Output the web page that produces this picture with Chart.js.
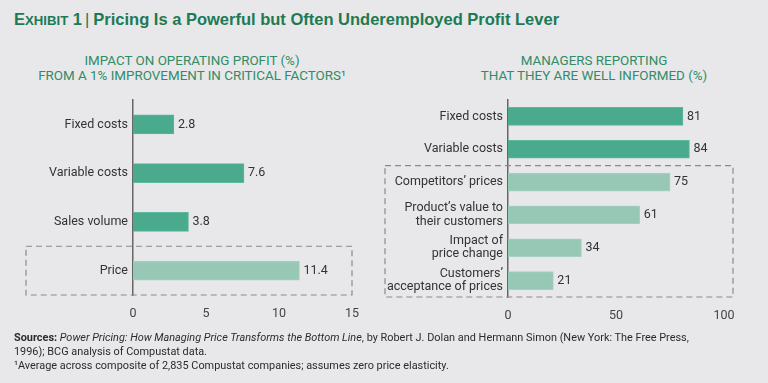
<!DOCTYPE html>
<html>
<head>
<meta charset="utf-8">
<script src="https://cdn.jsdelivr.net/npm/chart.js@4/dist/chart.umd.min.js"></script>
<style>
  body { margin: 0; background: #e8e8ea; }
  #wrap { position: relative; width: 768px; height: 383px; background: #e8e8ea; font-family: Roboto, 'Liberation Sans', sans-serif; overflow: hidden; }
  #title { position: absolute; left: 14px; top: 10px; font-family: 'Liberation Sans', sans-serif; font-weight: bold; font-size: 16.5px; color: #1d7a54; white-space: nowrap; }
  #title .sc small { font-size: 13.2px; }
  #title .bar { font-weight: normal; margin: 0 4px 0 3px; }
  .sub { position: absolute; top: 54px; width: 384px; text-align: center; color: #2f8c66; font-size: 13.4px; line-height: 14.5px; }
  canvas { position: absolute; top: 0; }
  #notes { position: absolute; left: 14px; top: 331px; font-size: 10.9px; line-height: 14px; color: #2b2b2b; }
</style>
</head>
<body>
<div id="wrap">
  <div id="title"><span class="sc">E<small>XHIBIT</small> 1</span><span class="bar">|</span>Pricing Is a Powerful but Often Underemployed Profit Lever</div>
  <div class="sub" style="left:0">IMPACT ON OPERATING PROFIT (%)<br>FROM A 1% IMPROVEMENT IN CRITICAL FACTORS¹</div>
  <div class="sub" style="left:402px">MANAGERS REPORTING<br>THAT THEY ARE WELL INFORMED (%)</div>
  <canvas id="left" width="384" height="383" style="left:0"></canvas>
  <canvas id="right" width="384" height="383" style="left:384px"></canvas>
  <div id="notes"><b>Sources:</b> <i>Power Pricing: How Managing Price Transforms the Bottom Line</i>, by Robert J. Dolan and Hermann Simon (New York: The Free Press,<br>1996); BCG analysis of Compustat data.<br>¹Average across composite of 2,835 Compustat companies; assumes zero price elasticity.</div>
</div>
<script>
// Impacto no lucro operacional
const leftLabels = ["Fixed costs", "Variable costs", "Sales volume", "Price"];
const leftValues = [2.8, 7.6, 3.8, 11.4];
const leftMax = 15;
const leftStep = 5;

// Gestores bem informados
const rightLabels = ["Fixed costs", "Variable costs", "Competitors’ prices",
    ["Product’s value to", "their customers"], ["Impact of", "price change"],
    ["Customers’", "acceptance of prices"]];
const rightValues = [81, 84, 75, 61, 34, 21];
const rightMax = 100;
const rightStep = 50;

const dark = "#4aaa8e";
const light = "#97c8b6";
const font = "Roboto, 'Liberation Sans', sans-serif";

// rótulos de valor no fim das barras
const valueLabels = {
    id: "valueLabels",
    afterDatasetsDraw(chart) {
        const ctx = chart.ctx;
        const meta = chart.getDatasetMeta(0);
        ctx.save();
        ctx.font = "12.5px " + font;
        ctx.fillStyle = "#333";
        ctx.textBaseline = "middle";
        ctx.textAlign = "left";
        meta.data.forEach((bar, i) => {
            ctx.fillText(String(chart.data.datasets[0].data[i]), bar.x + 4, bar.y);
        });
        ctx.restore();
    }
};

// caixa tracejada em volta das categorias de preço
const dashedBox = {
    id: "dashedBox",
    afterDraw(chart, args, opts) {
        const y = chart.scales.y;
        const area = chart.chartArea;
        const top = (y.getPixelForValue(opts.from - 1) + y.getPixelForValue(opts.from)) / 2;
        const ctx = chart.ctx;
        ctx.save();
        ctx.strokeStyle = "#8a8a8a";
        ctx.lineWidth = 1.2;
        ctx.setLineDash([6, 4]);
        ctx.strokeRect(opts.left, top, area.right + opts.extra - opts.left, area.bottom - top);
        ctx.restore();
    }
};

function makeChart(id, labels, values, lightFrom, max, step, pad, yWidth, thickness, boxLeft, boxExtra) {
    new Chart(document.getElementById(id), {
        type: "bar",
        data: {
            labels: labels,
            datasets: [{
                data: values,
                backgroundColor: values.map((v, i) => i >= lightFrom ? light : dark),
                borderColor: values.map((v, i) => i >= lightFrom ? "#a6d2c2" : "#5cb79b"),
                borderWidth: 1,
                barThickness: thickness
            }]
        },
        options: {
            indexAxis: "y",
            responsive: false,
            animation: false,
            layout: { padding: pad },
            plugins: {
                legend: { display: false },
                tooltip: { enabled: false },
                dashedBox: { from: lightFrom, left: boxLeft, extra: boxExtra }
            },
            scales: {
                x: {
                    min: 0, max: max,
                    grid: { display: false },
                    border: { display: false },
                    ticks: { stepSize: step, color: "#444", font: { family: font, size: 12.5 }, padding: 3 },
                    afterFit: s => { s.height = 30; }
                },
                y: {
                    grid: { display: false, drawTicks: false },
                    border: { display: true, color: "#666", width: 1.5 },
                    ticks: { color: "#333", font: { family: font, size: 12.5, lineHeight: 1.05 }, padding: 5 },
                    afterFit: s => { s.width = yWidth; }
                }
            }
        },
        plugins: [valueLabels, dashedBox]
    });
}

makeChart("left", leftLabels, leftValues, 3, leftMax, leftStep,
    { top: 100, right: 32, bottom: 58, left: 0 }, 133, 19, 26, 0);
makeChart("right", rightLabels, rightValues, 2, rightMax, rightStep,
    { top: 100, right: 44, bottom: 56, left: 0 }, 124, 18, 1, 9);
</script>
</body>
</html>
